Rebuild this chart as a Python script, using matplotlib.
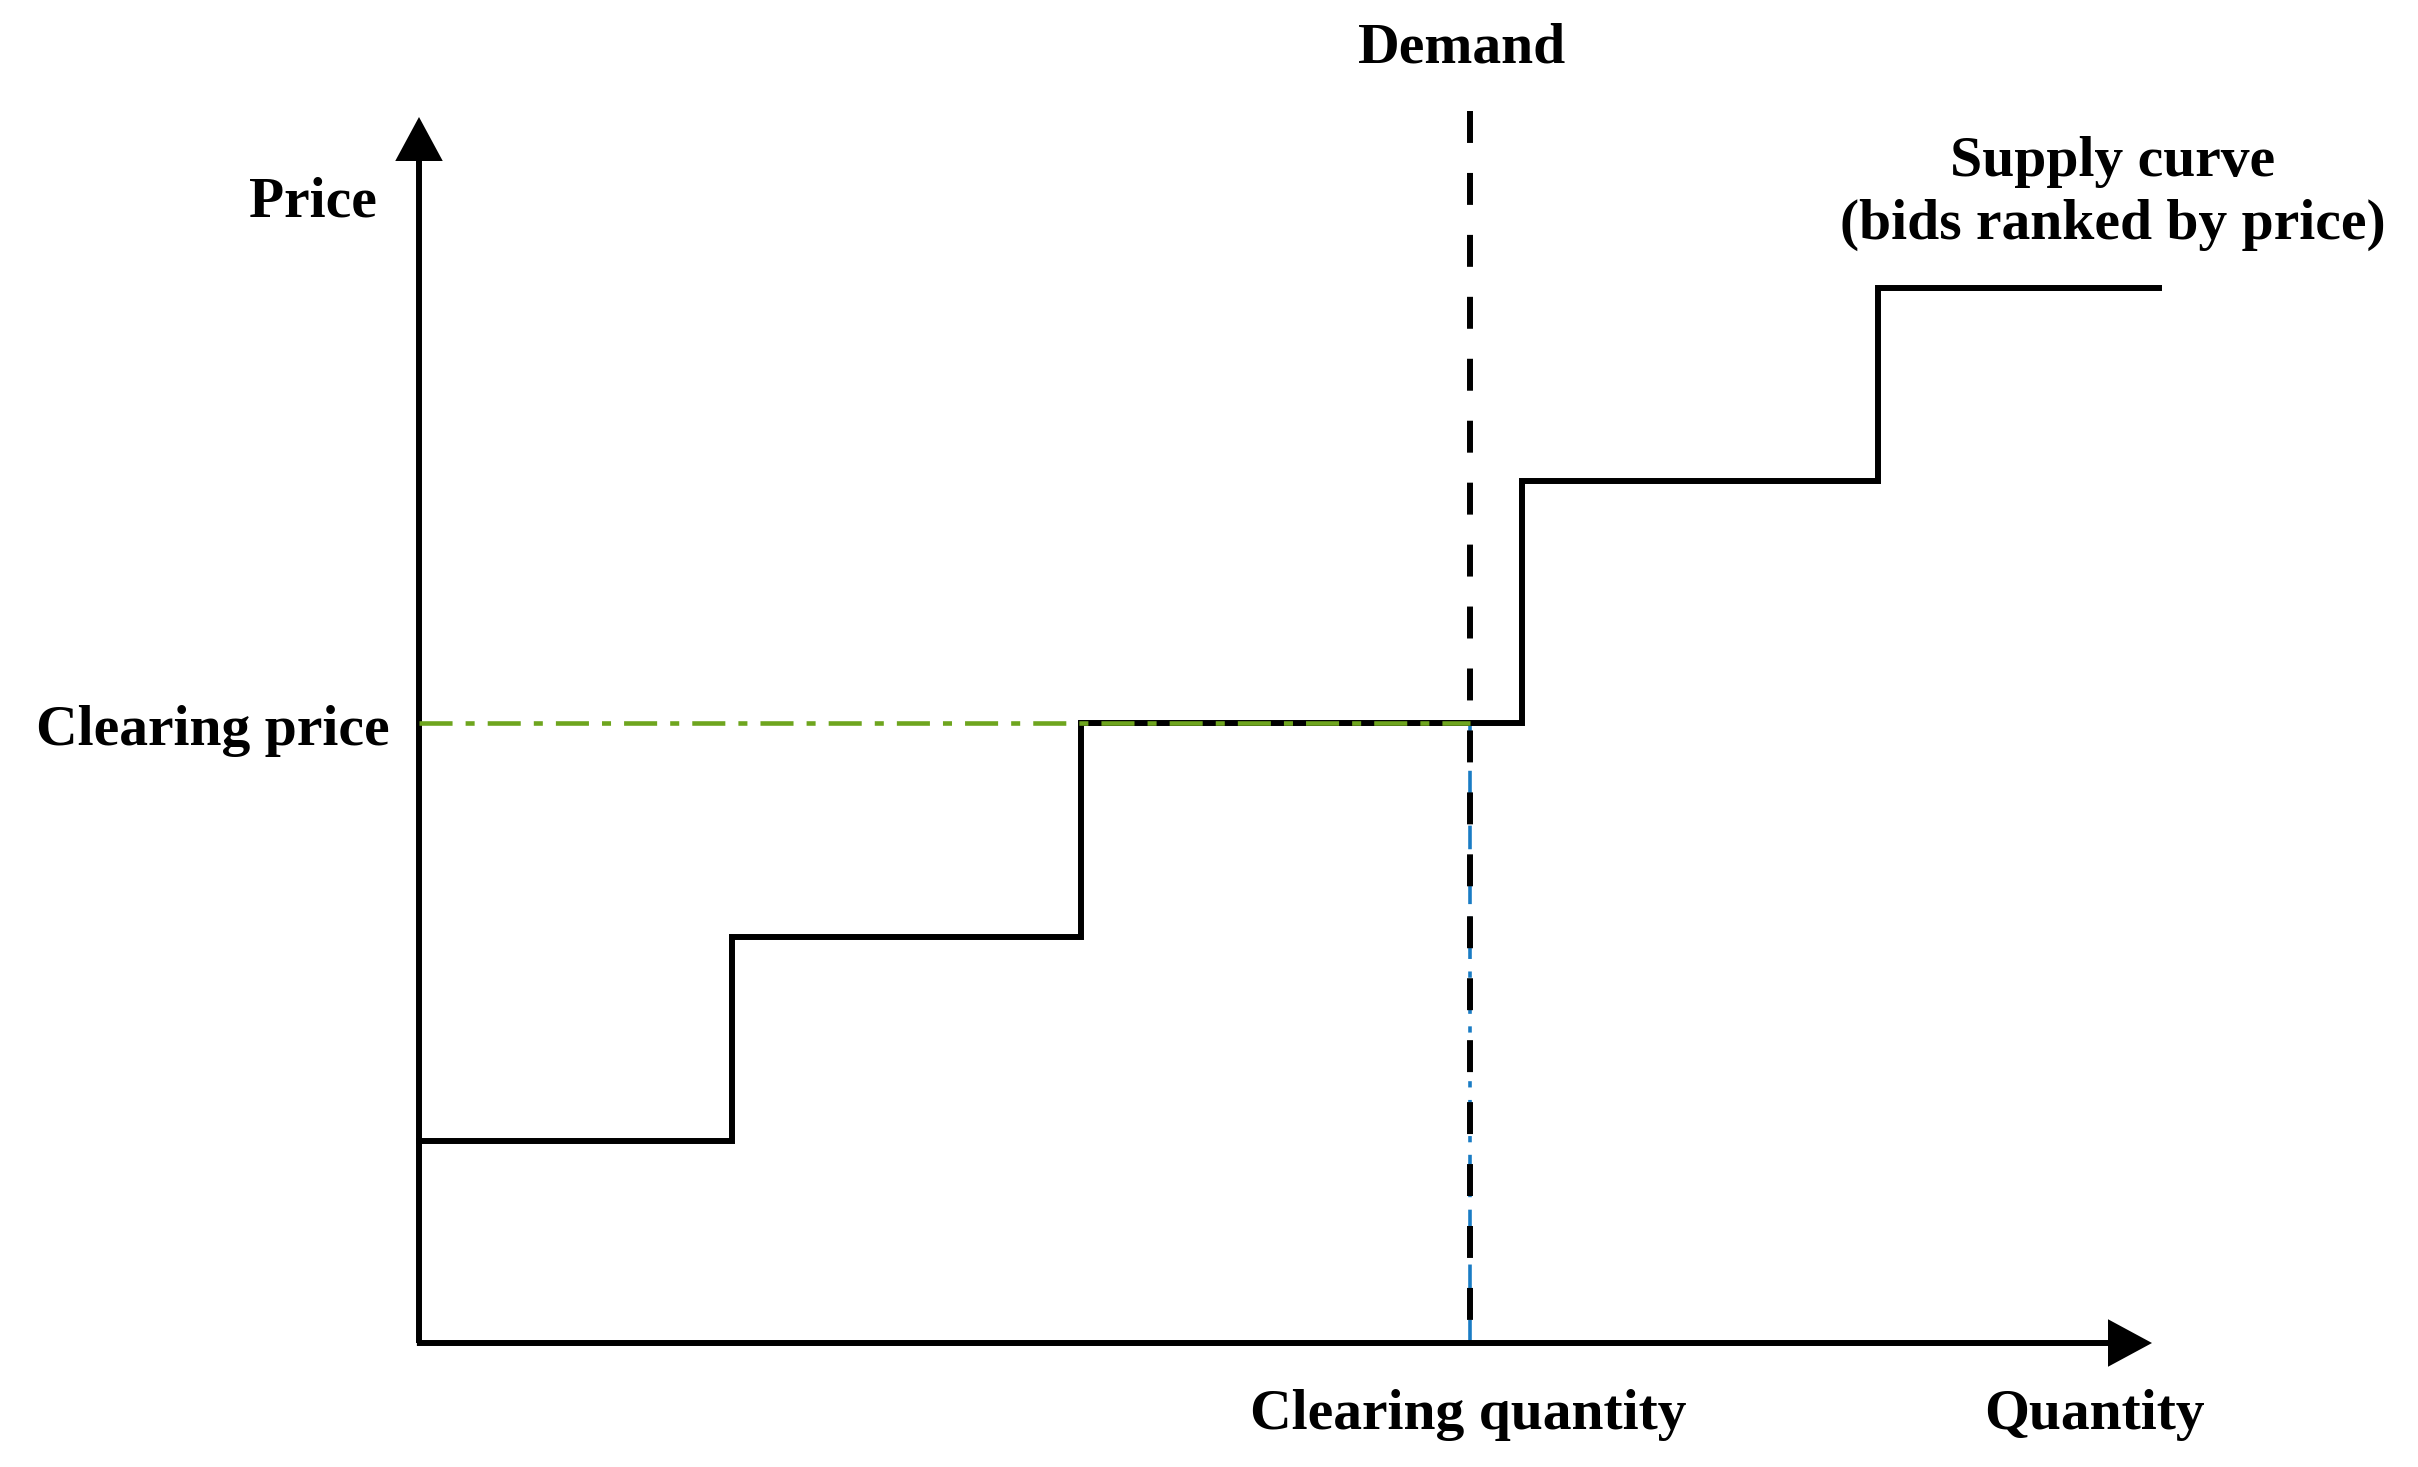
import matplotlib
matplotlib.use("Agg")
import matplotlib.pyplot as plt

# supply curve: bids ranked by price (quantity breakpoints, bid prices)
bid_qty_edges = [0.0, 3.13, 6.62, 11.03, 14.59, 17.40]
bid_prices = [2.02, 4.06, 6.20, 8.62, 10.55]

# market clearing
demand_qty = 10.51
clearing_price = 6.20
axis_qty_max = 17.33
axis_price_max = 12.26
demand_top = 12.32

plt.rcParams['lines.scale_dashes'] = False
plt.rcParams['font.family'] = ['Liberation Serif', 'DejaVu Serif']

fig = plt.figure(figsize=(24.18, 14.67), dpi=100)
ax = fig.add_axes([0, 0, 1, 1])
ax.set_xlim(-4.19, 19.99)
ax.set_ylim(-1.24, 13.43)
ax.axis('off')

lw = 4.3
txt = dict(fontsize=41.5, fontweight='bold', color='black')

# axes with arrow heads
arrow = dict(arrowstyle='-|>,head_length=2.5,head_width=1.35', lw=lw,
             color='black', mutation_scale=10, shrinkA=0, shrinkB=0,
             joinstyle='miter', capstyle='butt')
ax.annotate('', xy=(0, axis_price_max), xytext=(0, 0), arrowprops=arrow)
ax.annotate('', xy=(axis_qty_max, 0), xytext=(-0.021, 0), arrowprops=arrow)

# clearing price / quantity guides
ax.plot([0, demand_qty], [clearing_price, clearing_price], color='#6ea51e',
        lw=3.3, ls=(0, (23.8, 9.4, 6.5, 9.4)), zorder=3)
ax.plot([demand_qty, demand_qty], [0, clearing_price], color='#1a7cc4',
        lw=2.6, ls=(0, (17, 9, 4.5, 9)), zorder=2)

# supply curve
xs, ys = [], []
for i, p in enumerate(bid_prices):
    xs += [bid_qty_edges[i], bid_qty_edges[i + 1]]
    ys += [p, p]
ax.plot(xs, ys, color='black', lw=lw, solid_joinstyle='miter', zorder=2)

# demand (dashes start at the top)
ax.plot([demand_qty, demand_qty], [demand_top, 0], color='black', lw=lw,
        ls=(0, (23, 21.6)), zorder=4)

# labels
ax.text(demand_qty - 0.08, 12.8, 'Demand', ha='center', va='baseline', **txt)
ax.text(-1.06, 11.26, 'Price', ha='center', va='baseline', **txt)
ax.text(16.94, 11.67, 'Supply curve', ha='center', va='baseline', **txt)
ax.text(16.94, 11.04, '(bids ranked by price)', ha='center', va='baseline', **txt)
ax.text(-0.29, clearing_price - 0.22, 'Clearing price', ha='right', va='baseline', **txt)
ax.text(demand_qty - 0.02, -0.86, 'Clearing quantity', ha='center', va='baseline', **txt)
ax.text(16.75, -0.86, 'Quantity', ha='center', va='baseline', **txt)

fig.savefig('out.png', dpi=100)
